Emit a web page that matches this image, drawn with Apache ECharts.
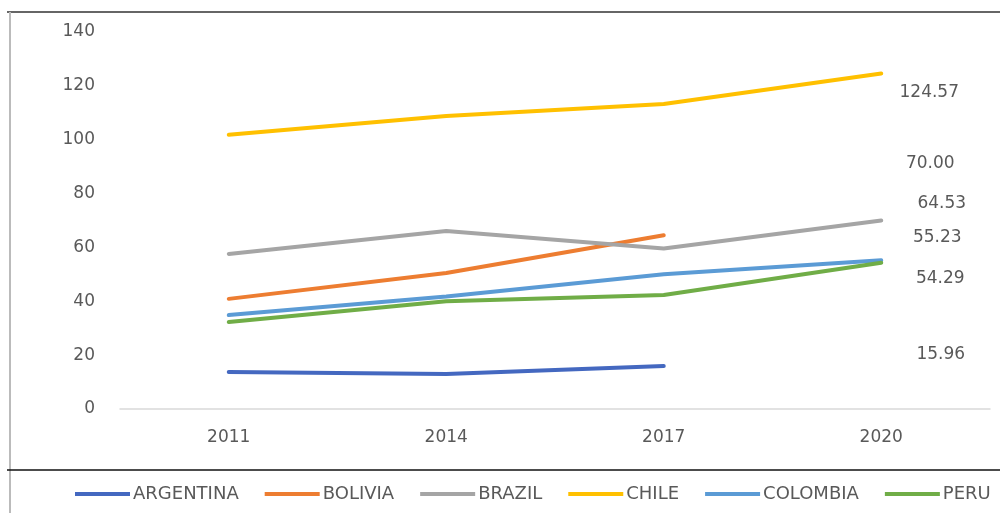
<!DOCTYPE html>
<html>
<head>
<meta charset="utf-8">
<script src="https://cdn.jsdelivr.net/npm/echarts@6/dist/echarts.min.js"></script>
<style>
html,body{margin:0;padding:0;background:#fff;}
#chart{width:1000px;height:513px;}
</style>
</head>
<body>
<div id="chart"></div>
<script>
const years = ['2011', '2014', '2017', '2020'];
const argentina = [13.7, 13.0, 15.96, null];
const bolivia = [40.9, 50.5, 64.53, null];
const brazil = [57.6, 66.1, 59.6, 70.00];
const chile = [101.8, 108.8, 113.3, 124.57];
const colombia = [34.9, 41.8, 50.0, 55.23];
const peru = [32.3, 40.0, 42.3, 54.29];
const yTicks = [0, 20, 40, 60, 80, 100, 120, 140];

const names = ['ARGENTINA', 'BOLIVIA', 'BRAZIL', 'CHILE', 'COLOMBIA', 'PERU'];
const colors = ['#4468C0', '#ED7D31', '#A5A5A5', '#FFC000', '#5B9BD5', '#70AD47'];
const datasets = [argentina, bolivia, brazil, chile, colombia, peru];
// label offsets for the end-value annotations
const labelOffsets = [[277, -11], [278, -32], [49, -57], [48, 19], [56, -23], [59, 16]];

const FONT = 'DejaVu Sans';
const chart = echarts.init(document.getElementById('chart'), null, {renderer: 'canvas'});

const series = datasets.map((arr, i) => {
  let last = -1;
  arr.forEach((v, k) => { if (v !== null) last = k; });
  return {
    name: names[i],
    type: 'line',
    data: arr.map((v, k) => k === last ? {
      value: v,
      label: {
        show: true,
        position: 'inside',
        offset: labelOffsets[i],
        formatter: (p) => Number(p.value).toFixed(2),
        fontFamily: FONT,
        fontSize: 17,
        color: '#595959'
      }
    } : v),
    symbol: 'circle',
    symbolSize: 0,
    showSymbol: true,
    lineStyle: {width: 4, color: colors[i], cap: 'round'},
    itemStyle: {color: colors[i]},
    z: 2 + i,
    animation: false
  };
});

chart.setOption({
  animation: false,
  backgroundColor: '#ffffff',
  grid: {left: 120, right: 10, top: 32, bottom: 104},
  legend: {
    data: names,
    left: 70,
    top: 480,
    icon: 'rect',
    itemWidth: 55,
    itemHeight: 4,
    itemGap: 26,
    textStyle: {fontFamily: FONT, fontSize: 18, color: '#595959', padding: [0, 0, 0, -2]}
  },
  xAxis: {
    type: 'category',
    data: years,
    boundaryGap: true,
    axisLine: {show: true, lineStyle: {color: '#D9D9D9', width: 1.5}},
    axisTick: {show: false},
    axisLabel: {fontFamily: FONT, fontSize: 17, color: '#595959', margin: 20},
    splitLine: {show: false}
  },
  yAxis: {
    type: 'value',
    min: yTicks[0],
    max: yTicks[yTicks.length - 1],
    interval: 20,
    axisLine: {show: false},
    axisTick: {show: false},
    splitLine: {show: false},
    axisLabel: {fontFamily: FONT, fontSize: 17, color: '#595959', margin: 25}
  },
  graphic: [
    {type: 'line', shape: {x1: 7, y1: 12, x2: 1000, y2: 12}, style: {stroke: '#333333', lineWidth: 1.5}, silent: true},
    {type: 'line', shape: {x1: 10, y1: 12, x2: 10, y2: 513}, style: {stroke: '#BBBBBB', lineWidth: 2}, silent: true},
    {type: 'line', shape: {x1: 7, y1: 470, x2: 1000, y2: 470}, style: {stroke: '#111111', lineWidth: 1.5}, silent: true}
  ],
  series: series
});
</script>
</body>
</html>
